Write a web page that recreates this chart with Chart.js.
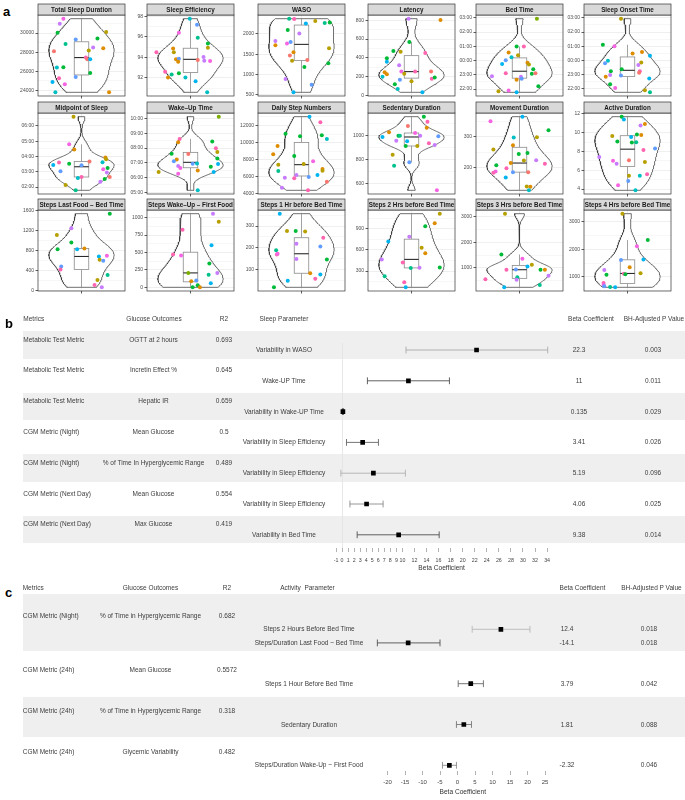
<!DOCTYPE html>
<html>
<head>
<meta charset="utf-8">
<script src="https://cdn.jsdelivr.net/npm/chart.js@4/dist/chart.umd.min.js"></script>
<style>
  html, body { margin: 0; padding: 0; background: #fff; }
  body { position: relative; width: 685px; height: 800px; overflow: hidden; font-family: "Liberation Sans", Arial, Helvetica, sans-serif; }
  canvas { position: absolute; }
  .t { position: absolute; font-size: 6.5px; color: #3c3c3c; white-space: pre; line-height: 1; transform: translateY(-50%); }
  .t.c { transform: translate(-50%, -50%); }
  .band { position: absolute; background: #efefef; }
  .lab { position: absolute; font-weight: bold; font-size: 13px; color: #000; line-height: 1; transform: translateY(-50%); }
</style>
</head>
<body>
<script>
// ---------- panel a: one array set per facet (value, jitter, participant) ----------
const totalSleepY = [31505,30980,30030,28840,28100,29330,28170,28480,29430,28420,30100,27430,27260,27260,26380,26420,25820,25400,25260,24630,24870,23790,23790];
const totalSleepX = [-0.25,-0.30,-0.33,-0.22,-0.38,-0.08,0.10,0.16,0.22,0.30,0.34,0.06,0.08,0.12,-0.34,-0.25,0.12,-0.08,-0.31,-0.23,-0.40,-0.36,0.38];
const totalSleepId = [10,9,4,5,0,8,2,9,4,1,2,11,0,7,6,4,4,8,11,10,7,6,1];
const totalSleepTicks = [24000,26000,28000,30000];

const sleepEffY = [97.77,97.18,96.39,95.9,95.34,94.92,94.85,94.49,94.49,94.03,93.8,93.86,93.57,93.73,93.67,93.64,92.58,92.32,92.45,92.03,92.03,91.67,90.58];
const sleepEffX = [-0.01,0.09,-0.16,0.10,0.24,0.24,-0.24,-0.47,-0.23,0.18,-0.20,-0.16,-0.17,0.10,0.19,0.27,-0.35,-0.26,-0.16,-0.31,-0.07,0.07,0.23];
const sleepEffId = [6,8,10,5,4,2,1,11,2,9,1,8,1,0,9,10,11,5,4,1,6,7,6];
const sleepEffTicks = [92,94,96,98];

const wasoY = [2379,2371,2322,2272,2287,2262,2099,2015,1827,1718,1767,1802,1545,1470,1644,1339,1356,1272,1183,886,745,555];
const wasoX = [-0.17,-0.10,0.19,0.32,0.39,0.06,-0.19,-0.03,-0.36,-0.36,-0.20,-0.15,-0.11,-0.16,0.38,-0.13,0.08,0.37,0.04,-0.22,0.14,-0.11];
const wasoId = [5,11,2,5,4,7,4,9,9,1,10,8,1,0,2,2,0,4,4,9,8,7];
const wasoTicks = [500,1000,1500,2000];

const latencyY = [818,804,570,474,466,395,359,452,320,245,224,199,253,231,253,253,178,189,167,117,149,68,32];
const latencyX = [-0.04,0.40,-0.03,-0.25,-0.15,-0.34,-0.34,0.19,-0.17,-0.37,-0.34,-0.40,-0.14,-0.10,0.05,0.27,0.28,0.32,-0.16,-0.23,0.00,-0.19,0.15];
const latencyId = [9,1,4,4,2,4,7,11,9,1,1,6,10,2,11,0,11,4,8,4,2,6,7];
const latencyTicks = [0,200,400,600,800];

// clock panels: hours relative to midnight (22:00 = -2)
const bedTimeY = [2.94,0.99,0.99,0.56,0.38,0.24,0.03,-0.25,-0.16,-0.28,-0.61,-0.89,-0.92,-0.89,-1.13,-1.27,-1.34,-1.10,-1.80,-2.15,-2.11,-2.23];
const bedTimeX = [0.24,-0.04,0.06,-0.15,-0.02,-0.11,-0.19,-0.24,0.11,0.13,0.19,-0.19,0.17,0.22,0.02,0.03,-0.04,-0.38,0.26,-0.29,-0.15,-0.04];
const bedTimeId = [3,4,11,1,2,6,8,7,1,2,4,11,4,0,9,8,1,9,4,2,10,7];
const bedTimeTicks = [-2,-1,0,1,2,3];

const onsetY = [2.94,1.1,0.99,0.49,0.59,0.33,-0.02,-0.21,-0.14,-0.32,-0.63,-0.77,-0.77,-0.87,-1.03,-1.15,-1.06,-1.27,-1.69,-1.94,-2.11,-2.25];
const onsetX = [-0.09,-0.34,-0.18,0.07,0.20,0.31,-0.27,-0.31,0.19,0.15,-0.08,-0.23,0.17,0.16,-0.24,-0.30,-0.09,0.30,-0.24,-0.17,0.24,0.31];
const onsetId = [2,4,10,1,1,7,6,8,2,9,4,4,11,0,9,1,8,7,4,10,2,5];
const onsetTicks = [-2,-1,0,1,2,3];

const midpointY = [6.6,4.80,4.45,3.61,3.45,3.52,3.03,3.42,3.68,3.93,3.82,3.63,3.16,3.24,2.96,2.66,2.59,2.66,2.35,2.53,2.14,1.79];
const midpointX = [-0.11,-0.17,-0.10,-0.31,-0.39,-0.17,-0.29,0.00,0.11,0.33,0.34,0.29,0.30,0.36,0.35,0.00,-0.05,0.39,0.26,0.32,-0.22,-0.08];
const midpointId = [2,10,1,11,7,4,8,8,0,1,2,6,10,4,9,11,6,0,9,4,2,5];
const midpointTicks = [2,3,4,5,6];

const wakeUpY = [10.13,8.62,8.40,8.44,7.61,7.59,7.99,7.74,7.22,7.11,7.29,6.91,6.73,6.93,6.78,6.64,6.95,6.48,6.37,6.26,6.37,5.13];
const wakeUpX = [0.39,-0.15,-0.17,0.30,-0.26,-0.03,0.35,0.37,-0.19,-0.23,0.37,0.38,0.28,0.03,-0.17,-0.14,0.09,0.10,-0.44,-0.17,0.32,0.10];
const wakeUpId = [3,11,1,4,4,0,11,2,1,8,4,7,4,8,9,10,6,1,2,10,7,6];
const wakeUpTicks = [5,6,7,8,9,10];

const stepsY = [13030,12370,11040,10850,10420,10740,9600,8630,8430,7420,7500,7810,6680,6910,6710,6210,6210,5900,5830,5980,5430,4730,4420];
const stepsX = [0.11,0.26,-0.22,0.28,0.35,-0.02,-0.33,-0.39,-0.10,-0.32,0.03,0.16,-0.32,0.29,0.29,-0.07,0.22,-0.23,-0.10,0.10,0.35,-0.27,0.09];
const stepsId = [7,11,4,4,6,4,1,1,4,2,2,10,5,1,2,9,7,9,11,8,0,9,11];
const stepsTicks = [4000,6000,8000,10000,12000];

const sedentaryY = [1155,1113,1078,1063,1025,1019,997,997,997,986,992,955,950,933,919,911,911,838,775,747,542];
const sedentaryX = [0.17,0.22,-0.05,0.21,-0.31,0.05,-0.18,-0.16,0.12,-0.40,0.37,-0.21,-0.06,0.24,0.32,-0.08,0.08,-0.26,-0.03,-0.24,0.35];
const sedentaryId = [4,11,0,1,1,10,4,5,9,7,8,9,7,11,9,4,2,2,8,5,10];
const sedentaryTicks = [600,800,1000];

const movementY = [367,352,322,299,298,273,259,247,244,222,214,223,212,207,197,186,182,184,184,166,137,136,124];
const movementX = [0.04,-0.40,0.40,0.24,-0.08,-0.09,-0.36,0.11,-0.01,0.06,-0.12,0.23,0.35,-0.32,-0.18,-0.33,-0.36,-0.09,0.12,-0.19,0.10,0.15,0.13];
const movementId = [7,10,4,2,6,1,2,4,4,2,1,9,11,4,11,10,11,8,0,7,2,1,6];
const movementTicks = [200,300];

const activeY = [11.70,11.39,9.65,9.55,9.80,9.76,10.75,10.92,9.06,8.95,8.98,8.32,8.17,7.40,7.01,6.69,7.08,6.87,5.42,5.42,5.57,4.86,4.40,3.87];
const activeX = [-0.08,-0.05,-0.21,0.05,0.13,0.19,0.18,0.24,-0.14,0.06,0.12,0.38,0.22,-0.39,-0.20,-0.15,0.02,0.24,0.02,0.17,0.27,0.01,-0.13,0.11];
const activeId = [4,7,2,7,4,1,9,1,4,4,5,8,11,9,10,9,0,2,2,6,11,8,10,6];
const activeTicks = [4,6,8,10,12];

const lastFoodY = [1540,1247,1113,960,827,827,840,680,693,613,593,480,420,307,207,107,60];
const lastFoodX = [0.39,-0.14,-0.34,-0.14,-0.33,-0.06,0.04,0.24,0.35,0.25,0.30,-0.28,-0.29,0.36,0.22,0.18,0.28];
const lastFoodId = [4,9,2,4,4,7,1,7,10,2,8,8,11,5,2,11,9];
const lastFoodTicks = [0,400,800,1200,1600];

const firstFoodY = [1058,942,827,605,471,457,341,207,207,179,86,97,58,29,0,0];
const firstFoodX = [0.31,0.39,-0.11,0.29,-0.24,-0.13,0.26,0.37,-0.03,0.25,0.01,0.08,0.28,0.10,0.03,0.13];
const firstFoodId = [9,2,11,7,11,10,4,9,3,5,1,8,7,4,4,1];
const firstFoodTicks = [0,250,500,750,1000];

const steps1hY = [357,246,277,277,275,218,205,188,168,172,148,145,82,76,57,47,17];
const steps1hX = [-0.30,0.30,-0.20,-0.08,0.05,-0.07,0.26,-0.35,-0.34,-0.33,-0.07,0.35,0.12,0.26,0.19,-0.19,-0.38];
const steps1hId = [7,11,2,4,2,9,8,5,11,10,9,4,1,7,11,7,4];
const steps1hTicks = [100,200,300];

const steps2hY = [1116,979,937,720,787,631,555,466,423,342,348,352,225,140,69];
const steps2hX = [0.39,0.32,0.19,-0.32,-0.03,0.14,0.19,-0.41,-0.12,-0.01,0.11,0.39,-0.37,-0.10,-0.08];
const steps2hId = [2,1,4,7,9,2,1,9,11,5,9,4,5,11,7];
const steps2hTicks = [300,600,900];

const steps3hY = [3117,1521,1354,1121,1054,926,938,926,926,693,626,537,549,327,237];
const steps3hX = [-0.20,-0.25,0.04,0.17,0.11,-0.18,-0.05,0.29,0.35,0.40,-0.03,-0.04,-0.47,0.28,-0.21];
const steps3hId = [2,4,10,2,7,11,8,4,1,9,5,9,11,5,7];
const steps3hTicks = [1000,2000,3000];

const steps4hY = [3278,2327,2110,1626,1615,1351,1253,1133,1120,1098,1084,783,711,664,639,628];
const steps4hX = [-0.07,0.28,0.13,0.22,-0.09,0.03,-0.32,0.18,-0.05,-0.03,-0.29,-0.33,-0.33,-0.32,-0.24,-0.17];
const steps4hId = [2,4,10,7,8,1,9,2,11,4,4,11,10,8,5,7];
const steps4hTicks = [1000,2000,3000];

// ---------- panel b ----------
const bMetrics = ['Metabolic Test Metric','Metabolic Test Metric','Metabolic Test Metric','CGM Metric (Night)','CGM Metric (Night)','CGM Metric (Next Day)','CGM Metric (Next Day)'];
const bOutcomes = ['OGTT at 2 hours','Incretin Effect %','Hepatic IR','Mean Glucose','% of Time In Hyperglycemic Range','Mean Glucose','Max Glucose'];
const bR2 = ['0.693','0.645','0.659','0.5','0.489','0.554','0.419'];
const bParams = ['Variability in WASO','Wake-UP Time','Variability in Wake-UP Time','Variability in Sleep Efficiency','Variability in Sleep Efficiency','Variability in Sleep Efficiency','Variability in Bed Time'];
const bBeta = [22.3, 11, 0.135, 3.41, 5.19, 4.06, 9.38];
const bLow = [10.6, 4.2, 0.05, 0.73, -0.2, 1.3, 2.5];
const bHigh = [34.1, 17.8, 0.22, 6.03, 10.5, 6.8, 16.1];
const bP = ['0.003','0.011','0.029','0.026','0.096','0.025','0.014'];
const bTicks = [-1,0,1,2,3,4,5,6,7,8,9,10,12,14,16,18,20,22,24,26,28,30,32,34];

// ---------- panel c ----------
const cMetrics = ['CGM Metric (Night)','CGM Metric (24h)','CGM Metric (24h)','CGM Metric (24h)'];
const cOutcomes = ['% of Time in Hyperglycemic Range','Mean Glucose','% of Time in Hyperglycemic Range','Glycemic Variability'];
const cR2 = ['0.682','0.5572','0.318','0.482'];
const cParams = ['Steps 2 Hours Before Bed Time','Steps/Duration Last Food ~ Bed Time','Steps 1 Hour Before Bed Time','Sedentary Duration','Steps/Duration Wake-Up ~ First Food'];
const cParamGroup = [0, 0, 1, 2, 3];
const cBeta = [12.4, -14.1, 3.79, 1.81, -2.32];
const cLow = [4.2, -22.9, 0.2, -0.3, -4.3];
const cHigh = [20.7, -5.0, 7.4, 4.0, -0.3];
const cP = ['0.018','0.018','0.042','0.088','0.046'];
const cTicks = [-20,-15,-10,-5,0,5,10,15,20,25];

// ---------- styling ----------
const hue = ['#F8766D','#DE8C00','#B79F00','#7CAE00','#00BA38','#00C08B','#00BFC4','#00B4F0','#619CFF','#C77CFF','#F564E3','#FF64B0'];
const bCiColor = ['#a9a9a9','#505050','#505050','#666','#b0b0b0','#8a8a8a','#505050'];
const cCiColor = ['#b8b8b8','#505050','#666','#777','#8a8a8a'];

Chart.defaults.font.family = '"Liberation Sans", Arial, Helvetica, sans-serif';
Chart.defaults.animation = false;
Chart.defaults.responsive = false;
Chart.defaults.plugins.legend.display = false;
Chart.defaults.plugins.tooltip.enabled = false;

const clock = h => String(((Math.round(h) % 24) + 24) % 24).padStart(2, '0') + ':00';
const plain = v => String(v);

const facets = [
  {title:'Total Sleep Duration', y:totalSleepY, x:totalSleepX, id:totalSleepId, ticks:totalSleepTicks, fmt:plain},
  {title:'Sleep Efficiency', y:sleepEffY, x:sleepEffX, id:sleepEffId, ticks:sleepEffTicks, fmt:plain},
  {title:'WASO', y:wasoY, x:wasoX, id:wasoId, ticks:wasoTicks, fmt:plain},
  {title:'Latency', y:latencyY, x:latencyX, id:latencyId, ticks:latencyTicks, fmt:plain},
  {title:'Bed Time', y:bedTimeY, x:bedTimeX, id:bedTimeId, ticks:bedTimeTicks, fmt:clock},
  {title:'Sleep Onset Time', y:onsetY, x:onsetX, id:onsetId, ticks:onsetTicks, fmt:clock},
  {title:'Midpoint of Sleep', y:midpointY, x:midpointX, id:midpointId, ticks:midpointTicks, fmt:clock},
  {title:'Wake\u2013Up Time', y:wakeUpY, x:wakeUpX, id:wakeUpId, ticks:wakeUpTicks, fmt:clock},
  {title:'Daily Step Numbers', y:stepsY, x:stepsX, id:stepsId, ticks:stepsTicks, fmt:plain},
  {title:'Sedentary Duration', y:sedentaryY, x:sedentaryX, id:sedentaryId, ticks:sedentaryTicks, fmt:plain},
  {title:'Movement Duration', y:movementY, x:movementX, id:movementId, ticks:movementTicks, fmt:plain},
  {title:'Active Duration', y:activeY, x:activeX, id:activeId, ticks:activeTicks, fmt:plain},
  {title:'Steps Last Food \u2013 Bed Time', y:lastFoodY, x:lastFoodX, id:lastFoodId, ticks:lastFoodTicks, fmt:plain},
  {title:'Steps Wake\u2013Up \u2013 First Food', y:firstFoodY, x:firstFoodX, id:firstFoodId, ticks:firstFoodTicks, fmt:plain},
  {title:'Steps 1 Hr before Bed Time', y:steps1hY, x:steps1hX, id:steps1hId, ticks:steps1hTicks, fmt:plain},
  {title:'Steps 2 Hrs before Bed Time', y:steps2hY, x:steps2hX, id:steps2hId, ticks:steps2hTicks, fmt:plain},
  {title:'Steps 3 Hrs before Bed Time', y:steps3hY, x:steps3hX, id:steps3hId, ticks:steps3hTicks, fmt:plain},
  {title:'Steps 4 Hrs before Bed Time', y:steps4hY, x:steps4hX, id:steps4hId, ticks:steps4hTicks, fmt:plain}
];

// ---------- helpers ----------
function quantile(sorted, p) {
  const h = (sorted.length - 1) * p, lo = Math.floor(h);
  const hi = Math.min(lo + 1, sorted.length - 1);
  return sorted[lo] + (sorted[hi] - sorted[lo]) * (h - lo);
}
function bwNrd0(v) {
  const n = v.length, mean = v.reduce((a, b) => a + b, 0) / n;
  const sd = Math.sqrt(v.reduce((a, b) => a + (b - mean) ** 2, 0) / (n - 1));
  const s = [...v].sort((a, b) => a - b);
  const iqr = quantile(s, 0.75) - quantile(s, 0.25);
  const lo = Math.min(sd, iqr / 1.34) || sd;
  return 0.9 * lo * Math.pow(n, -0.2);
}
// trimmed gaussian violin, widest point = 0.9 of the category width
function violin(v) {
  const s = [...v].sort((a, b) => a - b), bw = bwNrd0(v), steps = 120;
  const ys = [], ds = [];
  for (let k = 0; k <= steps; k++) {
    const y = s[0] + (s[s.length - 1] - s[0]) * k / steps;
    let d = 0;
    for (const xi of v) { const z = (y - xi) / bw; d += Math.exp(-0.5 * z * z); }
    ys.push(y); ds.push(d);
  }
  const m = Math.max(...ds);
  const right = ys.map((y, k) => ({x: 0.45 * ds[k] / m, y}));
  const left = ys.map((y, k) => ({x: -0.45 * ds[k] / m, y})).reverse();
  return [...right, ...left, right[0]];
}

function facetPlugin(f) {
  const s = [...f.y].sort((a, b) => a - b);
  const q1 = quantile(s, 0.25), med = quantile(s, 0.5), q3 = quantile(s, 0.75), iqr = q3 - q1;
  const wLo = s.find(v => v >= q1 - 1.5 * iqr);
  const wHi = [...s].reverse().find(v => v <= q3 + 1.5 * iqr);
  return {
    id: 'facet',
    beforeDraw(chart) {
      const a = chart.chartArea, ctx = chart.ctx;
      ctx.save(); ctx.fillStyle = '#fff';
      ctx.fillRect(a.left, a.top, a.right - a.left, a.bottom - a.top);
      ctx.restore();
    },
    afterDatasetDraw(chart, args) {
      if (args.index !== 1) return;
      const X = chart.scales.x, Y = chart.scales.y, ctx = chart.ctx;
      const xl = X.getPixelForValue(-0.1), xr = X.getPixelForValue(0.1), xc = X.getPixelForValue(0);
      ctx.save();
      ctx.strokeStyle = '#8a8a8a'; ctx.lineWidth = 0.8;
      ctx.beginPath();
      ctx.moveTo(xc, Y.getPixelForValue(wHi)); ctx.lineTo(xc, Y.getPixelForValue(q3));
      ctx.moveTo(xc, Y.getPixelForValue(q1)); ctx.lineTo(xc, Y.getPixelForValue(wLo));
      ctx.stroke();
      const top = Y.getPixelForValue(q3), bot = Y.getPixelForValue(q1);
      ctx.fillStyle = '#fff';
      ctx.fillRect(xl, top, xr - xl, bot - top);
      ctx.strokeRect(xl, top, xr - xl, bot - top);
      ctx.strokeStyle = '#2a2a2a'; ctx.lineWidth = 1.1;
      ctx.beginPath();
      ctx.moveTo(xl, Y.getPixelForValue(med)); ctx.lineTo(xr, Y.getPixelForValue(med));
      ctx.stroke();
      ctx.restore();
    },
    afterDraw(chart) {
      const a = chart.chartArea, ctx = chart.ctx;
      ctx.save();
      ctx.strokeStyle = '#333'; ctx.lineWidth = 0.7;
      ctx.strokeRect(a.left, a.top, a.right - a.left, a.bottom - a.top);
      ctx.fillStyle = '#d9d9d9';
      ctx.fillRect(a.left, 1, a.right - a.left, a.top - 1);
      ctx.strokeRect(a.left, 1, a.right - a.left, a.top - 1);
      ctx.fillStyle = '#1a1a1a';
      ctx.font = 'bold 6.3px "Liberation Sans", Arial, sans-serif';
      ctx.textAlign = 'center'; ctx.textBaseline = 'middle';
      ctx.fillText(f.title, (a.left + a.right) / 2, (1 + a.top) / 2 + 0.4);
      ctx.restore();
    }
  };
}

// ---------- panel a layout ----------
const colLeft = [38, 147, 258, 368, 476, 584];
const rowTop = [4, 101.7, 199.3];
const plotW = 90, plotH = 81, stripH = 11, yAxisW = 22, xAxisH = 5;

facets.forEach((f, i) => {
  const col = i % 6, row = Math.floor(i / 6);
  const cv = document.createElement('canvas');
  const W = yAxisW + plotW + 1, H = 1 + stripH + plotH + xAxisH;
  cv.width = W; cv.height = H;
  cv.style.left = (colLeft[col] - yAxisW) + 'px';
  cv.style.top = (rowTop[row] - 1) + 'px';
  document.body.appendChild(cv);

  const lo = Math.min(...f.y), hi = Math.max(...f.y), pad = (hi - lo) * 0.05;
  const yMin = lo - pad, yMax = hi + pad;
  const step = f.ticks[1] - f.ticks[0];
  const majors = new Set(f.ticks);
  const all = [];
  for (let v = f.ticks[0] - step / 2; v <= yMax; v += step / 2) if (v >= yMin) all.push(v);
  const isMajor = v => f.ticks.some(t => Math.abs(t - v) < step * 1e-6);

  new Chart(cv, {
    type: 'scatter',
    data: {
      datasets: [
        {
          data: f.y.map((v, k) => ({x: f.x[k], y: v})),
          pointRadius: 2, pointBorderWidth: 0,
          pointBackgroundColor: f.id.map(k => hue[k])
        },
        {
          data: violin(f.y),
          showLine: true, pointRadius: 0, tension: 0,
          borderColor: '#333', borderWidth: 0.7,
          backgroundColor: '#fff', fill: 'shape'
        }
      ]
    },
    options: {
      layout: {padding: {left: 0, right: 1, top: 1 + stripH, bottom: 0}},
      scales: {
        x: {
          type: 'linear', min: -0.6, max: 0.6,
          afterBuildTicks: s => { s.ticks = [{value: 0}]; },
          afterFit: s => { s.height = xAxisH; },
          ticks: {display: false},
          grid: {color: '#ebebeb', lineWidth: 0.8, tickColor: '#333', tickLength: 2.5},
          border: {display: false}
        },
        y: {
          type: 'linear', min: yMin, max: yMax,
          afterBuildTicks: s => { s.ticks = all.map(v => ({value: v})); },
          afterFit: s => { s.width = yAxisW; },
          ticks: {
            autoSkip: false, maxRotation: 0, padding: 1.5,
            color: '#4d4d4d', font: {size: 5},
            callback: v => isMajor(v) ? f.fmt(f.ticks.find(t => Math.abs(t - v) < step * 1e-6)) : ''
          },
          grid: {
            color: '#ebebeb',
            lineWidth: c => (c.tick && isMajor(c.tick.value)) ? 0.8 : 0.4,
            tickColor: c => (c.tick && isMajor(c.tick.value)) ? '#333' : 'rgba(0,0,0,0)',
            tickLength: 2.5
          },
          border: {display: false}
        }
      }
    },
    plugins: [facetPlugin(f)]
  });
});

// ---------- text helpers ----------
function text(s, x, y, center) {
  const d = document.createElement('div');
  d.className = 't' + (center ? ' c' : '');
  d.textContent = s;
  d.style.left = x + 'px'; d.style.top = y + 'px';
  document.body.appendChild(d);
}
function band(top, bottom) {
  const d = document.createElement('div');
  d.className = 'band';
  d.style.left = '23px'; d.style.width = '662px';
  d.style.top = top + 'px'; d.style.height = (bottom - top) + 'px';
  document.body.appendChild(d);
}
function label(s, x, y) {
  const d = document.createElement('div');
  d.className = 'lab'; d.textContent = s;
  d.style.left = x + 'px'; d.style.top = y + 'px';
  document.body.appendChild(d);
}

function forest(o) {
  const areaLeft = o.zeroPx + o.xmin * o.ppu, areaW = (o.xmax - o.xmin) * o.ppu;
  const padL = 6, padT = 6;
  const W = Math.ceil(padL + areaW + 6);
  const H = Math.round(padT + (o.areaBottom - o.areaTop) + o.axisH);
  const cv = document.createElement('canvas');
  cv.width = W; cv.height = H;
  cv.style.left = (areaLeft - padL) + 'px';
  cv.style.top = (o.areaTop - padT) + 'px';
  document.body.appendChild(cv);

  const datasets = [{
    data: o.beta.map((b, i) => ({x: b, y: o.rows[i]})),
    pointStyle: 'rect', pointRadius: 3.3, pointBorderWidth: 0, pointBackgroundColor: '#000'
  }];
  o.low.forEach((l, i) => datasets.push({
    data: [{x: l, y: o.rows[i]}, {x: o.high[i], y: o.rows[i]}],
    showLine: true, borderColor: o.colors[i], borderWidth: 0.9,
    pointStyle: 'line', pointRotation: 90, pointRadius: 3.4,
    pointBorderColor: o.colors[i], pointBorderWidth: 0.9
  }));

  new Chart(cv, {
    type: 'scatter',
    data: {datasets},
    options: {
      layout: {padding: {left: padL, right: W - padL - areaW, top: padT, bottom: 0}},
      scales: {
        x: {
          type: 'linear', min: o.xmin, max: o.xmax,
          afterBuildTicks: s => { s.ticks = o.ticks.map(v => ({value: v})); },
          afterFit: s => { s.height = o.axisH; },
          ticks: {autoSkip: false, maxRotation: 0, minRotation: 0, padding: o.tickPad, color: '#444', font: {size: o.tickFont}},
          grid: {
            color: c => (o.zeroLine && c.tick && c.tick.value === 0) ? '#e2e2e2' : 'rgba(0,0,0,0)',
            lineWidth: 0.8, tickColor: '#a0a0a0', tickLength: 4
          },
          border: {display: false},
          title: {display: true, text: 'Beta Coefficient', color: '#333', font: {size: 6.6}, padding: 0}
        },
        y: {
          type: 'linear', reverse: true, display: false,
          min: (o.areaTop - o.slot0Px) / o.pitch, max: (o.areaBottom - o.slot0Px) / o.pitch
        }
      }
    }
  });
}

// ---------- panel labels ----------
label('a', 3, 11);
label('b', 5, 323);
label('c', 5, 592);

// ---------- panel b ----------
const bRowPx = i => 350 + 30.8 * i;
bMetrics.forEach((m, i) => { if (i % 2 === 0) band(bRowPx(i) - 19, bRowPx(i) + 8.7); });
text('Metrics', 23.3, 319); text('Glucose Outcomes', 154, 319, true); text('R2', 224, 319, true);
text('Sleep Parameter', 284, 319, true); text('Beta Coefficient', 591, 319, true); text('BH-Adjusted P Value', 654, 319, true);
bMetrics.forEach((m, i) => {
  const y = bRowPx(i);
  text(m, 23.3, y - 10.5);
  text(bOutcomes[i], 153.5, y - 10.5, true);
  text(bR2[i], 224, y - 10.5, true);
  text(bParams[i], 284, y, true);
  text(String(bBeta[i]), 579, y, true);
  text(bP[i], 653, y, true);
});
forest({
  zeroPx: 342.3, ppu: 6.03, xmin: -3, xmax: 36,
  areaTop: 343, areaBottom: 548, slot0Px: 350, pitch: 30.8, axisH: 24,
  rows: bBeta.map((b, i) => i), beta: bBeta, low: bLow, high: bHigh, colors: bCiColor,
  ticks: bTicks, tickFont: 5.3, tickPad: 5, zeroLine: true
});

// ---------- panel c ----------
const cSlot0 = 615.7, cPitch = 13.6;
const cMetricSlot = [], cParamSlot = [];
let slot = 0;
cMetrics.forEach((m, g) => {
  cMetricSlot.push(slot);
  cParamGroup.forEach((pg, k) => { if (pg === g) { slot += 1; cParamSlot[k] = slot; } });
  slot += 2;
});
band(594, 650.7);
band(697.3, 736.7);
text('Metrics', 22.7, 588); text('Glucose Outcomes', 150.5, 588, true); text('R2', 227, 588, true);
text('Activity  Parameter', 307.5, 588, true); text('Beta Coefficient', 582.5, 588, true); text('BH-Adjusted P Value', 651.5, 588, true);
cMetrics.forEach((m, g) => {
  const y = cSlot0 + cPitch * cMetricSlot[g];
  text(m, 22.7, y);
  text(cOutcomes[g], 150.5, y, true);
  text(cR2[g], 227, y, true);
});
cParams.forEach((p, k) => {
  const y = cSlot0 + cPitch * cParamSlot[k];
  text(p, 309, y, true);
  text(String(cBeta[k]), 567, y, true);
  text(cP[k], 649, y, true);
});
forest({
  zeroPx: 457.7, ppu: 3.5, xmin: -25, xmax: 28,
  areaTop: 600, areaBottom: 771, slot0Px: cSlot0, pitch: cPitch, axisH: 25,
  rows: cParamSlot, beta: cBeta, low: cLow, high: cHigh, colors: cCiColor,
  ticks: cTicks, tickFont: 6, tickPad: 4, zeroLine: false
});
</script>
</body>
</html>
